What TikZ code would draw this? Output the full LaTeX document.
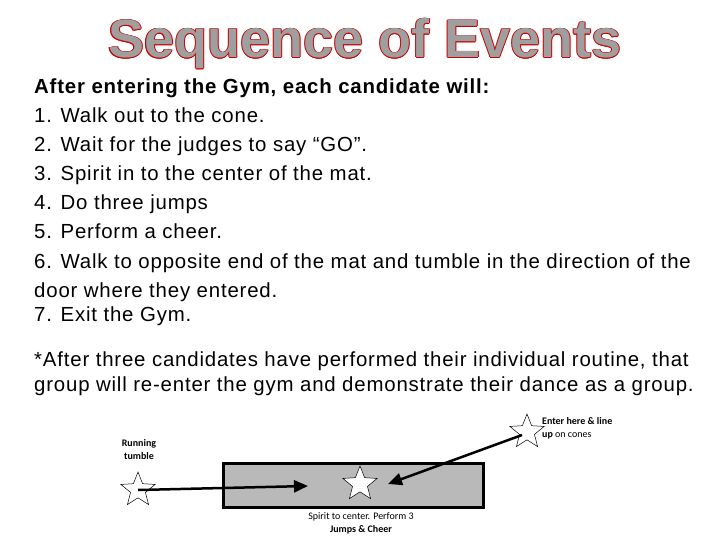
\documentclass[tikz,border=0pt]{standalone}
\usepackage{fontspec}
\setmainfont{Liberation Sans}
\newfontfamily\bodyf[LetterSpace=4]{Liberation Sans}
\newfontfamily\smallf{Carlito}
\usetikzlibrary{shapes.geometric,arrows.meta}
\begin{document}
\begin{tikzpicture}[x=1pt,y=-1pt,
  body/.style={anchor=base west,font=\bodyf\fontsize{20.4}{29}\selectfont,inner sep=0pt},
  starshape/.style={star,star points=5,star point ratio=2.3,draw,fill=white,minimum size=36pt,inner sep=0pt,line width=0.5pt},
  lbl/.style={font=\smallf\fontsize{10}{13}\selectfont,align=center,inner sep=0pt},
  arr/.style={line width=2.5pt,-{Triangle[length=14pt,width=12pt]}}]
\useasboundingbox (0,0) rectangle (720,540);
\foreach \dx/\dy in {-0.6/0,0.6/0,0/-0.6,0/0.6,-0.45/-0.45,0.45/0.45,-0.45/0.45,0.45/-0.45}
  \node[text=red!80!black,font=\bfseries\fontsize{54}{56}\selectfont,inner sep=0pt] at (365+\dx,44+\dy) {Sequence of Events};
\node[text=gray!75,font=\bfseries\fontsize{54}{56}\selectfont,inner sep=0pt] (title) at (365,44) {Sequence of Events};
\node[body,font=\bodyf\bfseries\fontsize{20.4}{29}\selectfont] (l0) at (34,94) {After entering the Gym, each candidate will:};
\node[body] (l1) at (34,123) {1. Walk out to the cone.};
\node[body] (l2) at (34,152) {2. Wait for the judges to say “GO”.};
\node[body] (l3) at (34,181) {3. Spirit in to the center of the mat.};
\node[body] (l4) at (34,210) {4. Do three jumps};
\node[body] (l5) at (34,239) {5. Perform a cheer.};
\node[body] (l6) at (34,268) {6. Walk to opposite end of the mat and tumble in the direction of the};
\node[body] (l6b) at (34,297) {door where they entered.};
\node[body] (l7) at (34,321) {7. Exit the Gym.};
\node[body] (n1) at (34,366) {*After three candidates have performed their individual routine, that};
\node[body] (n2) at (34,391) {group will re-enter the gym and demonstrate their dance as a group.};
\node[draw,line width=2.5pt,fill=gray!55,minimum width=260pt,minimum height=44pt,inner sep=0pt] (mat) at (353.5,485.5) {};
\node[starshape] (sl) at (138,490) {};
\node[starshape] (sc) at (360,484) {};
\node[starshape] (sr) at (527,432) {};
\coordinate (al) at (308,486);
\coordinate (ar) at (388,484);
\draw[arr] (sl.center) -- (al);
\draw[arr] (sr.center) ++(-5,3) -- (ar);
\node[lbl,font=\smallf\bfseries\fontsize{10}{13}\selectfont] (rt) at (139,450) {Running\\tumble};
\node[lbl,align=left,anchor=west] (en) at (542,428) {\textbf{Enter here \& line}\\\textbf{up} on cones};
\node[lbl] (sp) at (361,523) {Spirit to center. Perform 3\\\textbf{Jumps \& Cheer}};
\end{tikzpicture}
\end{document}
